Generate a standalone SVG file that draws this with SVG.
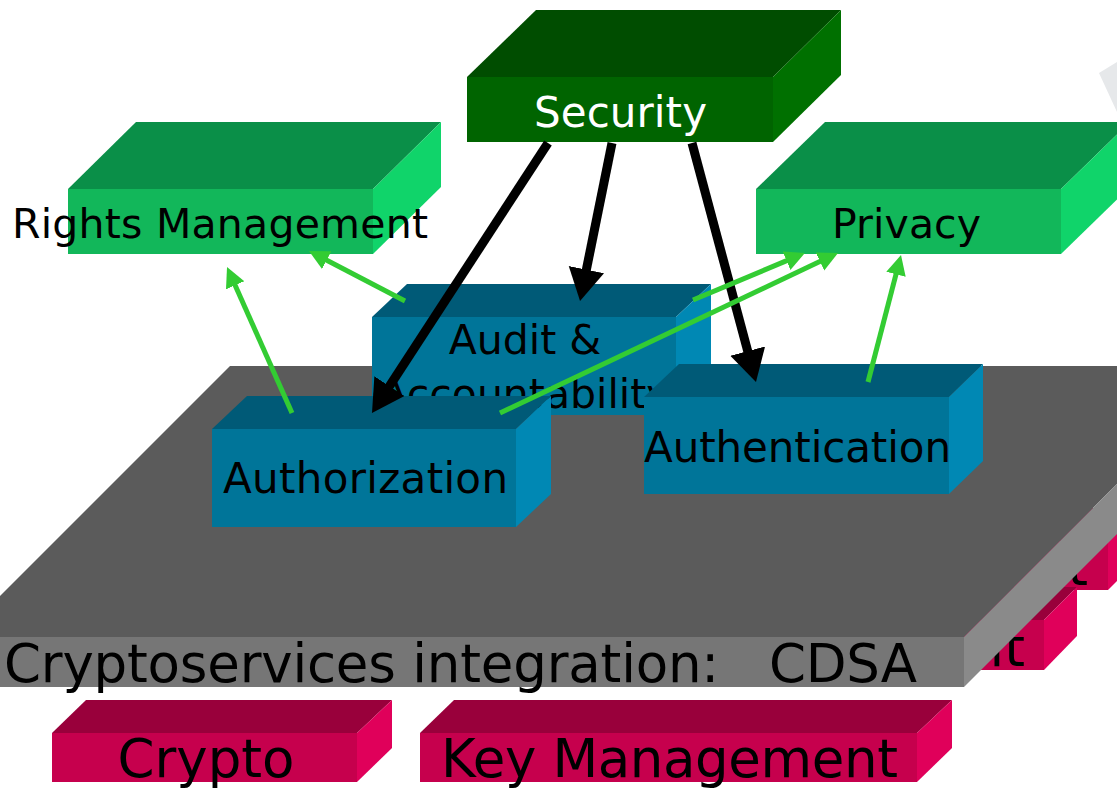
<svg xmlns="http://www.w3.org/2000/svg" width="1117" height="789" viewBox="0 0 1117 789">
<style>
text{font-family:"DejaVu Sans","Liberation Sans",sans-serif;fill:#000;}
.pf{fill:#c6004d}.pt{fill:#99003b}.ps{fill:#e0005a}
.gf{fill:#12b75a}.gt{fill:#0a8f48}.gs{fill:#10d46a}
.sf{fill:#006400}.st{fill:#004d00}.ss{fill:#007000}
.bf{fill:#007599}.bt{fill:#005a77}.bs{fill:#0088b4}
.blk{stroke:#000;stroke-width:9;fill:none;marker-end:url(#ab)}
.grn{stroke:#33cc33;stroke-width:5;fill:none;marker-end:url(#ag)}
</style>
<defs>
<marker id="ab" markerUnits="userSpaceOnUse" markerWidth="40" markerHeight="40" refX="12" refY="18" orient="auto"><path d="M0,0 L32,18 L0,36 z" fill="#000"/></marker>
<marker id="ag" markerUnits="userSpaceOnUse" markerWidth="24" markerHeight="24" refX="8" refY="10" orient="auto"><path d="M0,0 L20,10 L0,20 z" fill="#33cc33"/></marker>
</defs>
<rect width="1117" height="789" fill="#fff"/>
<polygon points="1099,73 1117,62 1117,112" fill="#e6e8ea"/>

<g id="pink-hidden-1">
<polygon class="pt" points="611,541 644,508 1141,508 1108,541"/>
<rect class="pf" x="611" y="541" width="497" height="49"/>
<polygon class="ps" points="1108,541 1141,508 1141,557 1108,590"/>
<text x="1088" y="585" font-size="53" text-anchor="end">t</text>
</g>
<g id="pink-hidden-2">
<polygon class="pt" points="547,620 580,587 1077,587 1044,620"/>
<rect class="pf" x="547" y="620" width="497" height="50"/>
<polygon class="ps" points="1044,620 1077,587 1077,636 1044,670"/>
<text x="1025" y="666" font-size="53" text-anchor="end">it</text>
</g>

<g id="cdsa">
<polygon points="230,366 1235,366 964,637 -41,637" fill="#5b5b5b"/>
<rect x="-41" y="637" width="1005" height="50" fill="#767676"/>
<polygon points="964,637 1235,366 1235,416 964,687" fill="#8a8a8a"/>
<text x="4" y="682" font-size="53" textLength="913" style="white-space:pre" xml:space="preserve">Cryptoservices integration:   CDSA</text>
</g>

<g id="crypto">
<polygon class="pt" points="52,733 86,700 392,700 357,733"/>
<rect class="pf" x="52" y="733" width="305" height="49"/>
<polygon class="ps" points="357,733 392,700 392,748 357,782"/>
<text x="206" y="777" font-size="53" text-anchor="middle">Crypto</text>
</g>
<g id="keymgmt">
<polygon class="pt" points="420,733 454,700 952,700 917,733"/>
<rect class="pf" x="420" y="733" width="497" height="49"/>
<polygon class="ps" points="917,733 952,700 952,748 917,782"/>
<text x="441" y="777" font-size="53" textLength="457">Key Management</text>
</g>

<g id="audit">
<polygon class="bt" points="372,317 407,284 711,284 676,317"/>
<rect class="bf" x="372" y="317" width="304" height="98"/>
<polygon class="bs" points="676,317 711,284 711,382 676,415"/>
<text x="525" y="354" font-size="41" text-anchor="middle">Audit &amp;</text>
<text x="525" y="408" font-size="41" text-anchor="middle">Accountability</text>
</g>
<g id="authorization">
<polygon class="bt" points="212,429 247,396 551,396 516,429"/>
<rect class="bf" x="212" y="429" width="304" height="98"/>
<polygon class="bs" points="516,429 551,396 551,494 516,527"/>
<text x="223" y="493" font-size="42" textLength="285">Authorization</text>
</g>
<g id="authentication">
<polygon class="bt" points="644,397 679,364 983,364 949,397"/>
<rect class="bf" x="644" y="397" width="305" height="97"/>
<polygon class="bs" points="949,397 983,364 983,461 949,494"/>
<text x="644" y="462" font-size="42" textLength="307">Authentication</text>
</g>

<g id="security">
<polygon class="st" points="467,77 536,10 841,10 773,77"/>
<rect class="sf" x="467" y="77" width="306" height="65"/>
<polygon class="ss" points="773,77 841,10 841,75 773,142"/>
<text x="534" y="127" font-size="42" textLength="173" style="fill:#fff">Security</text>
</g>
<g id="rights">
<polygon class="gt" points="68,189 136,122 441,122 373,189"/>
<rect class="gf" x="68" y="189" width="305" height="65"/>
<polygon class="gs" points="373,189 441,122 441,187 373,254"/>
<text x="12" y="238" font-size="41" textLength="416">Rights Management</text>
</g>
<g id="privacy">
<polygon class="gt" points="756,189 825,122 1130,122 1061,189"/>
<rect class="gf" x="756" y="189" width="305" height="65"/>
<polygon class="gs" points="1061,189 1130,122 1130,187 1061,254"/>
<text x="832" y="238" font-size="41" textLength="149">Privacy</text>
</g>

<g id="connectors">
<line class="blk" x1="548" y1="143" x2="382.9" y2="396.2"/>
<line class="blk" x1="612" y1="143" x2="584" y2="281.4"/>
<line class="blk" x1="692" y1="143" x2="750.8" y2="362.7"/>
<line class="grn" x1="405" y1="301" x2="319.6" y2="256.5"/>
<line class="grn" x1="292" y1="413" x2="231.9" y2="278"/>
<line class="grn" x1="693" y1="300" x2="793.9" y2="257.6"/>
<line class="grn" x1="500" y1="413" x2="827.2" y2="258.1"/>
<line class="grn" x1="868" y1="382" x2="898" y2="266.6"/>
</g>
</svg>
